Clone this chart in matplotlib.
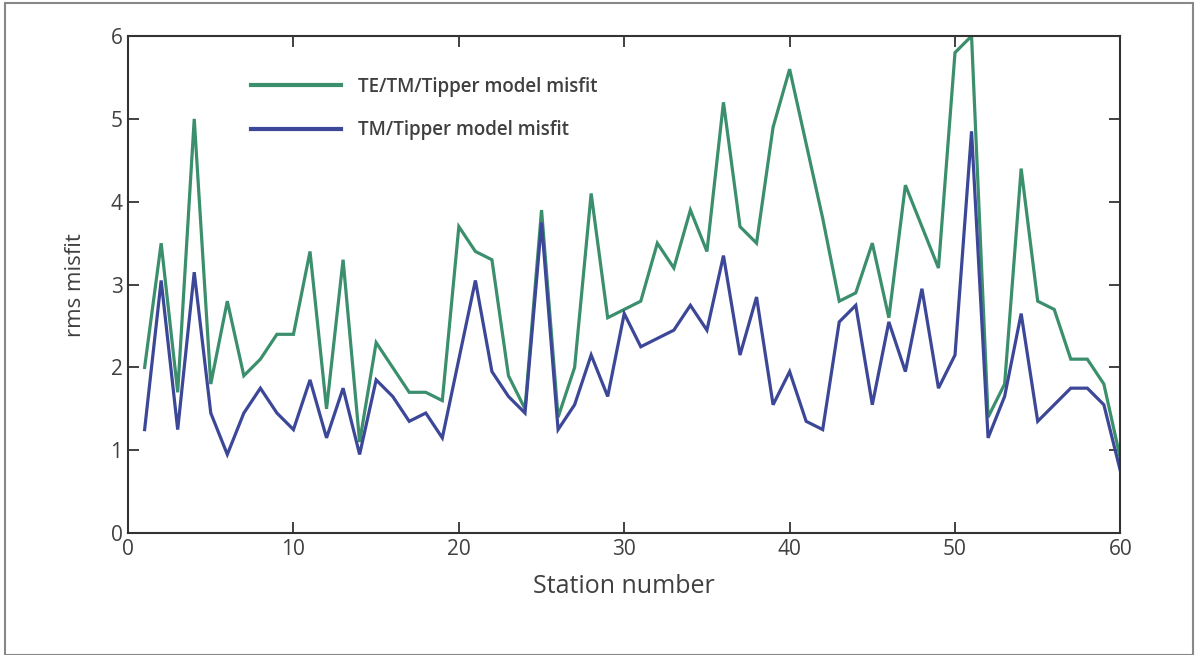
import matplotlib as mpl
mpl.use('Agg')
import numpy as np
import matplotlib.pyplot as plt
from matplotlib.patches import Rectangle

# station numbers 1..60
stations = list(range(1, 61))

# TE/TM/Tipper model misfit (green)
te_tm_tipper = [2.0, 3.5, 1.7, 5.0, 1.8, 2.8, 1.9, 2.1, 2.4, 2.4,
                3.4, 1.5, 3.3, 1.1, 2.3, 2.0, 1.7, 1.7, 1.6, 3.7,
                3.4, 3.3, 1.9, 1.5, 3.9, 1.4, 2.0, 4.1, 2.6, 2.7,
                2.8, 3.5, 3.2, 3.9, 3.4, 5.2, 3.7, 3.5, 4.9, 5.6,
                4.7, 3.8, 2.8, 2.9, 3.5, 2.6, 4.2, 3.7, 3.2, 5.8,
                6.0, 1.4, 1.8, 4.4, 2.8, 2.7, 2.1, 2.1, 1.8, 0.9]

# TM/Tipper model misfit (blue)
tm_tipper = [1.25, 3.05, 1.25, 3.15, 1.45, 0.95, 1.45, 1.75, 1.45, 1.25,
             1.85, 1.15, 1.75, 0.95, 1.85, 1.65, 1.35, 1.45, 1.15, 2.1,
             3.05, 1.95, 1.65, 1.45, 3.75, 1.25, 1.55, 2.15, 1.65, 2.65,
             2.25, 2.35, 2.45, 2.75, 2.45, 3.35, 2.15, 2.85, 1.55, 1.95,
             1.35, 1.25, 2.55, 2.75, 1.55, 2.55, 1.95, 2.95, 1.75, 2.15,
             4.85, 1.15, 1.65, 2.65, 1.35, 1.55, 1.75, 1.75, 1.55, 0.75]

series_names = ["TE/TM/Tipper model misfit", "TM/Tipper model misfit"]
colors = ["#3b8f6d", "#3c4797"]
text_col = "#404040"

plt.rcParams['font.family'] = ['Open Sans', 'DejaVu Sans']

fig = plt.figure(figsize=(11.97, 6.55), dpi=100)
ax = fig.add_axes([0.107, 0.186, 0.829, 0.759])

# outer frame around the whole picture
fig.patches.append(Rectangle((0.004, 0.0), 0.993, 0.996, transform=fig.transFigure,
                             fill=False, edgecolor="#888888", linewidth=1.5))

ax.plot(stations, te_tm_tipper, color=colors[0], lw=2.3, label=series_names[0], solid_joinstyle='miter')
ax.plot(stations, tm_tipper, color=colors[1], lw=2.3, label=series_names[1], solid_joinstyle='miter')

ax.set_xlim(0, 60)
ax.set_ylim(0, 6)
ax.set_xticks(np.arange(0, 61, 10))
ax.set_yticks(np.arange(0, 7, 1))
ax.tick_params(direction='in', length=8, width=1.3, top=True, right=True,
               labelsize=15, colors="#333333", labelcolor=text_col, pad=4)
for sp in ax.spines.values():
    sp.set_color("#333333")
    sp.set_linewidth(1.5)

ax.set_xlabel("Station number", fontsize=18, color=text_col, labelpad=10)
ax.set_ylabel("rms misfit", fontsize=16, color=text_col, labelpad=18)

leg = ax.legend(loc='upper left', bbox_to_anchor=(0.107, 0.952), frameon=False,
                prop={'size': 13.5, 'weight': 'semibold'},
                handlelength=4.8, handletextpad=0.9, labelspacing=1.25)
for t in leg.get_texts():
    t.set_color(text_col)
for h in leg.get_lines():
    h.set_linewidth(3)

fig.savefig("out.png", dpi=100)
plt.close()
